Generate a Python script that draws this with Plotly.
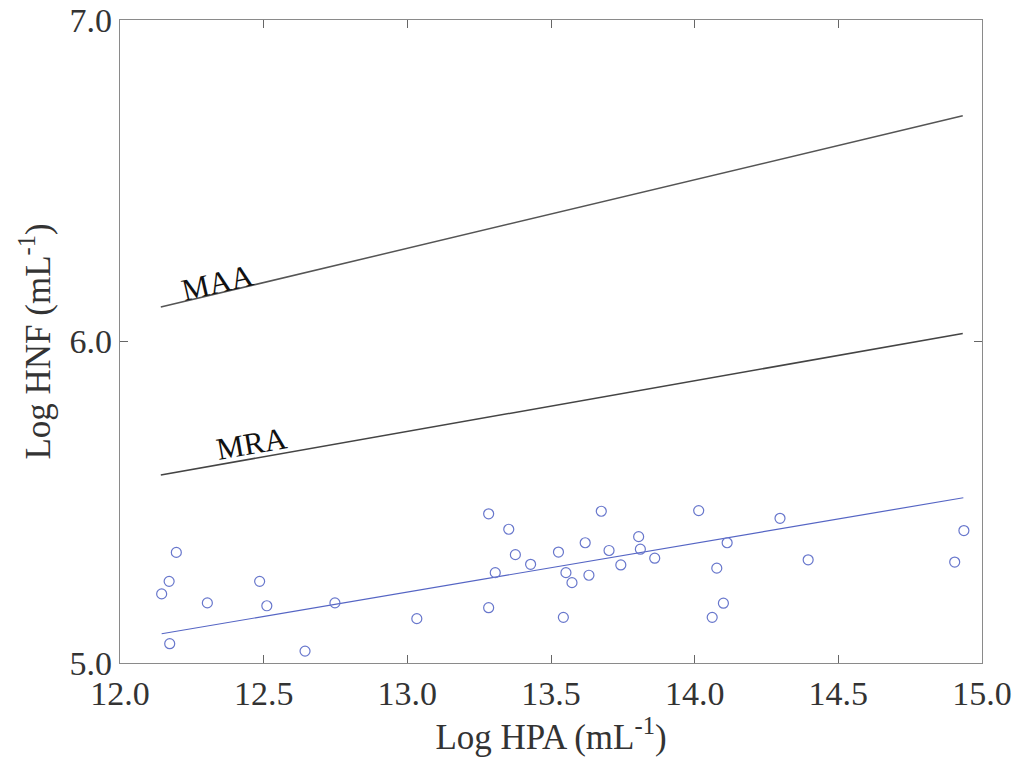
import plotly.graph_objects as go

# Observed data (Log HPA, Log HNF)
hpa = [12.196, 12.171, 12.145, 12.304, 12.486, 12.511, 12.748, 12.173, 12.644, 13.033,
       13.283, 13.675, 14.014, 13.353, 13.805, 13.619, 13.376, 13.526, 13.702, 13.811,
       13.429, 13.306, 13.552, 13.573, 13.632, 13.743, 13.861, 14.077, 13.283, 13.543,
       14.061, 14.113, 14.297, 14.395, 14.937, 14.905, 14.100]
hnf = [5.344, 5.254, 5.215, 5.187, 5.254, 5.178, 5.187, 5.060, 5.037, 5.138,
       5.464, 5.472, 5.474, 5.416, 5.393, 5.374, 5.337, 5.345, 5.350, 5.354,
       5.307, 5.281, 5.281, 5.250, 5.273, 5.305, 5.326, 5.295, 5.172, 5.142,
       5.142, 5.374, 5.450, 5.321, 5.412, 5.314, 5.186]

# Regression line endpoints
fit_x = [12.145, 14.935]
fit_y = [5.091, 5.514]

# Maximum attainable abundance (MAA) and mean realized abundance (MRA)
maa_x = [12.142, 14.933]
maa_y = [6.107, 6.702]
mra_x = [12.142, 14.933]
mra_y = [5.585, 6.025]

FONT = "Liberation Serif"
AXC = "#8a8a8a"

fig = go.Figure()
fig.add_trace(go.Scatter(x=maa_x, y=maa_y, mode="lines",
                         line=dict(color="#555555", width=1.5), showlegend=False))
fig.add_trace(go.Scatter(x=mra_x, y=mra_y, mode="lines",
                         line=dict(color="#444444", width=1.5), showlegend=False))
fig.add_trace(go.Scatter(x=fit_x, y=fit_y, mode="lines",
                         line=dict(color="#5565c4", width=1.2), showlegend=False))
fig.add_trace(go.Scatter(x=hpa, y=hnf, mode="markers",
                         marker=dict(symbol="circle-open", size=10,
                                     color="#6877cc", line=dict(width=1.2)),
                         showlegend=False))

fig.add_annotation(x=12.341, y=6.185, xref="x", yref="y", text="MAA",
                   showarrow=False, textangle=-13,
                   font=dict(family=FONT, size=31, color="#111111"))
fig.add_annotation(x=12.459, y=5.684, xref="x", yref="y", text="MRA",
                   showarrow=False, textangle=-10,
                   font=dict(family=FONT, size=31, color="#111111"))

axis_common = dict(showgrid=False, zeroline=False, showline=True, linecolor=AXC,
                   linewidth=1.2, mirror="ticks", ticks="inside", ticklen=8,
                   tickcolor="#666666", tickwidth=1, tickformat=".1f",
                   tickfont=dict(family=FONT, size=34, color="#333333"))

fig.update_xaxes(range=[12, 15], dtick=0.5, tick0=12,
                 title=dict(text="Log HPA (mL<sup>-1</sup>)", standoff=12,
                            font=dict(family=FONT, size=35, color="#333333")),
                 **axis_common)
fig.update_yaxes(range=[5, 7], dtick=1, tick0=5,
                 title=dict(text="Log HNF (mL<sup>-1</sup>)", standoff=8,
                            font=dict(family=FONT, size=35, color="#333333")),
                 **axis_common)

fig.update_layout(width=1018, height=771, autosize=False,
                  margin=dict(l=120, r=36, t=20, b=108, autoexpand=False),
                  plot_bgcolor="white", paper_bgcolor="white")

fig.write_html("out.html", config={"displayModeBar": False},
               post_script="document.body.style.margin='0';document.body.style.overflow='hidden';")
